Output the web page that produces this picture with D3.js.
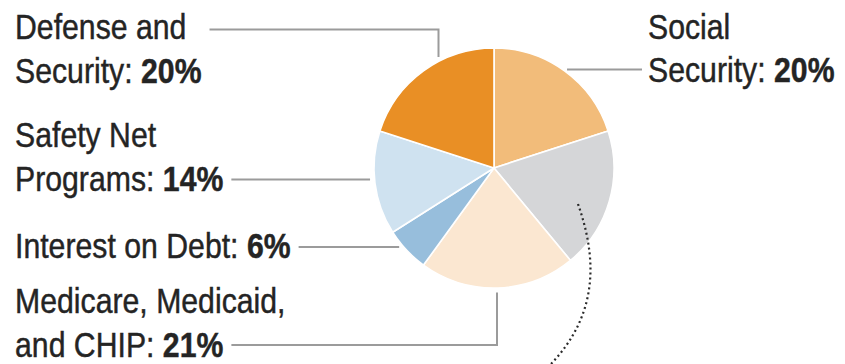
<!DOCTYPE html>
<html>
<head>
<meta charset="utf-8">
<script src="https://cdn.jsdelivr.net/npm/d3@7"></script>
<style>
  html, body { margin: 0; padding: 0; background: #fff; }
  svg { display: block; }
  text { font-family: "Liberation Sans", Arial, sans-serif; font-size: 36px; fill: #242424; stroke: #242424; stroke-width: 0.45px; }
</style>
</head>
<body>
<svg id="chart" width="845" height="364"></svg>
<script>
// Share of federal spending by category, clockwise from 12 o'clock
const categories = ["Social Security", "All Other", "Medicare, Medicaid, and CHIP", "Interest on Debt", "Safety Net Programs", "Defense and Security"];
const shares = [20, 19, 21, 6, 14, 20];
const sliceColors = ["#f2bc7a", "#d5d6d8", "#fbe7d1", "#97bedc", "#cfe2f0", "#e98f25"];
// Label text lines; the share is appended in bold to the last line
const labelLines = [
  ["Social", "Security:"],
  null,
  ["Medicare, Medicaid,", "and CHIP:"],
  ["Interest on Debt:"],
  ["Safety Net", "Programs:"],
  ["Defense and", "Security:"]
];

// Label placement and leader routing
const layout = [
  { x: 648, y: 38.5, side: "right", lineY: 69.5 },
  null,
  { x: 15, y: 313, side: "left", lineY: 345, elbowX: 497 },
  { x: 15, y: 257.5, side: "left", lineY: 247 },
  { x: 15, y: 147, side: "left", lineY: 179.5 },
  { x: 15, y: 39, side: "left", lineY: 29.5, elbowX: 438.5 }
];

const cx = 494, cy = 168, R = 120;
const lineGap = 43.5, edgeGap = 4.5, textGap = 8;
const squeeze = 0.84; // narrow the sans face horizontally

const svg = d3.select("#chart");

const pie = d3.pie().sort(null).value(d => d);
const arc = d3.arc().innerRadius(0).outerRadius(R);
const arcs = pie(shares);

const g = svg.append("g").attr("transform", `translate(${cx},${cy})`);
g.selectAll("path.slice")
  .data(arcs)
  .join("path")
  .attr("class", "slice")
  .attr("d", arc)
  .attr("fill", (d, i) => sliceColors[i])
  .attr("stroke", "#fff")
  .attr("stroke-width", 1.6)
  .attr("stroke-linejoin", "round");

const leaders = svg.append("g")
  .attr("fill", "none")
  .attr("stroke", "#9b9b9b")
  .attr("stroke-width", 2);

categories.forEach((name, i) => {
  const lines = labelLines[i];
  const pos = layout[i];
  if (!lines || !pos) return;
  let lastWidth = 0;
  lines.forEach((ln, j) => {
    const last = j === lines.length - 1;
    const t = svg.append("text")
      .attr("transform", `translate(${pos.x},${pos.y + j * lineGap}) scale(${squeeze},1)`);
    t.append("tspan").text(last ? ln + " " : ln);
    if (last) {
      t.append("tspan").attr("font-weight", "bold").text(shares[i] + "%");
      lastWidth = t.node().getComputedTextLength() * squeeze;
    }
  });

  // Leader from label to the pie rim
  const p = d3.path();
  if (pos.side === "right") {
    const edgeX = cx + Math.sqrt(R * R - (pos.lineY - cy) ** 2);
    p.moveTo(edgeX + edgeGap, pos.lineY);
    p.lineTo(pos.x - 6, pos.lineY);
  } else {
    const startX = pos.x + lastWidth + textGap;
    p.moveTo(startX, pos.lineY);
    if (pos.elbowX !== undefined) {
      const dy = Math.sqrt(R * R - (pos.elbowX - cx) ** 2);
      const rimY = pos.lineY < cy ? cy - dy - edgeGap : cy + dy + edgeGap;
      p.lineTo(pos.elbowX, pos.lineY);
      p.lineTo(pos.elbowX, rimY);
    } else {
      const edgeX = cx - Math.sqrt(R * R - (pos.lineY - cy) ** 2);
      p.lineTo(edgeX - edgeGap, pos.lineY);
    }
  }
  leaders.append("path").attr("d", p.toString());
});

// Dotted connector leading from the grey slice to its breakdown below
const conn = d3.path();
conn.moveTo(578, 204);
conn.bezierCurveTo(594, 250, 604, 312, 547, 368);
svg.append("path")
  .attr("d", conn.toString())
  .attr("fill", "none")
  .attr("stroke", "#2a2a2a")
  .attr("stroke-width", 2.2)
  .attr("stroke-dasharray", "2 3");
</script>
</body>
</html>
